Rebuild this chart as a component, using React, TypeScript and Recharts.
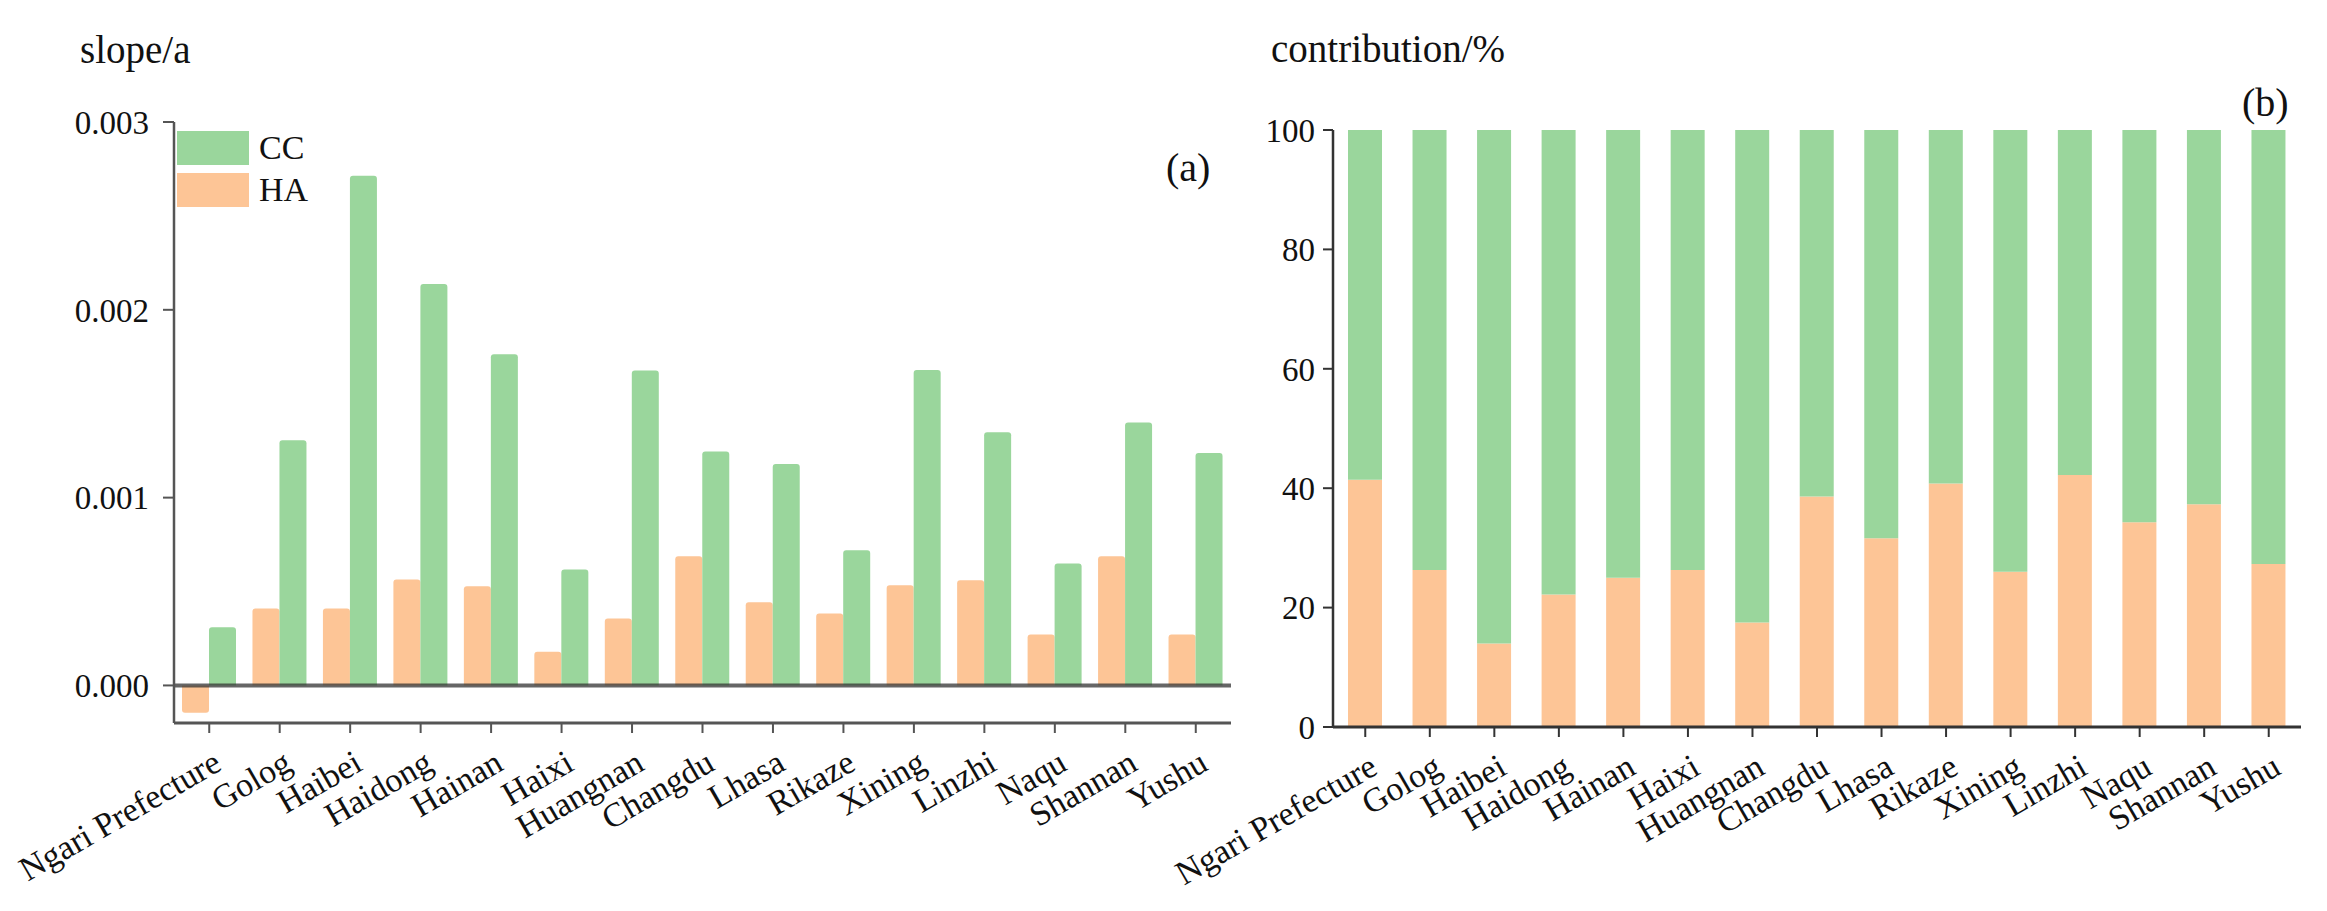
import React from 'react';
import { BarChart, Bar, XAxis, YAxis, ReferenceLine, Legend } from 'recharts';

const regions = ['Ngari Prefecture', 'Golog', 'Haibei', 'Haidong', 'Hainan', 'Haixi', 'Huangnan', 'Changdu', 'Lhasa', 'Rikaze', 'Xining', 'Linzhi', 'Naqu', 'Shannan', 'Yushu'];
const slopeHA = [-0.000145, 0.00041, 0.00041, 0.000564, 0.000528, 0.000179, 0.000356, 0.000688, 0.000443, 0.000383, 0.000534, 0.00056, 0.000271, 0.000688, 0.000271];
const slopeCC = [0.00031, 0.001305, 0.002714, 0.002137, 0.001764, 0.000617, 0.001677, 0.001246, 0.001179, 0.00072, 0.00168, 0.001348, 0.000649, 0.0014, 0.001238];
const contribHA = [41.4, 26.3, 14.0, 22.2, 25.0, 26.3, 17.5, 38.6, 31.6, 40.8, 26.0, 42.2, 34.3, 37.3, 27.3];
const contribCC = [58.6, 73.7, 86.0, 77.8, 75.0, 73.7, 82.5, 61.4, 68.4, 59.2, 74.0, 57.8, 65.7, 62.7, 72.7];
const slopeTicks = [0, 0.001, 0.002, 0.003];
const contribTicks = [0, 20, 40, 60, 80, 100];

const GREEN = '#9AD69C';
const ORANGE = '#FDC596';
const FONT = '"Liberation Serif", "Times New Roman", serif';
const TEXT = '#111';

const dataA = regions.map((name, i) => ({ name, HA: slopeHA[i], CC: slopeCC[i] }));
const dataB = regions.map((name, i) => ({ name, HA: contribHA[i], CC: contribCC[i] }));

const XTick = (props: any) => {
  const { x, y, payload } = props;
  return (
    <text
      x={0}
      y={0}
      transform={`translate(${x + 14},${y + 36}) rotate(-30)`}
      textAnchor="end"
      fontSize={34}
      fontFamily={FONT}
      fill={TEXT}
    >
      {payload.value}
    </text>
  );
};

const LegendContent = (props: any) => {
  const order = ['CC', 'HA'];
  const items = (props.payload || []).slice().sort((a: any, b: any) => order.indexOf(a.value) - order.indexOf(b.value));
  return (
    <div style={{ fontFamily: FONT, fontSize: 34, color: TEXT }}>
      {items.map((it: any, i: number) => (
        <div key={it.value} style={{ display: 'flex', alignItems: 'center', height: 34, marginBottom: i === 0 ? 8 : 0 }}>
          <div style={{ width: 72, height: 34, background: it.color }} />
          <span style={{ marginLeft: 10, lineHeight: '34px' }}>{it.value}</span>
        </div>
      ))}
    </div>
  );
};

export default function App() {
  return (
    <div style={{ position: 'absolute', left: 0, top: 0, width: 2327, height: 911, background: '#fff' }}>
      <div style={{ position: 'absolute', left: 0, top: 0 }}>
        <BarChart width={1250} height={911} data={dataA} barGap={0} margin={{ top: 122, right: 19, bottom: 38, left: 0 }}>
          <XAxis
            dataKey="name"
            interval={0}
            tick={<XTick />}
            tickSize={10}
            tickMargin={0}
            height={150}
            axisLine={{ stroke: '#555', strokeWidth: 3 }}
            tickLine={{ stroke: '#555', strokeWidth: 2 }}
          />
          <YAxis
            width={174}
            domain={[-0.0002, 0.003]}
            ticks={slopeTicks}
            tickFormatter={(v: number) => v.toFixed(3)}
            tick={{ fontSize: 33, fill: TEXT, fontFamily: FONT }}
            tickSize={11}
            tickMargin={14}
            axisLine={{ stroke: '#555', strokeWidth: 2.5 }}
            tickLine={{ stroke: '#555', strokeWidth: 2 }}
          />
          <Legend
            layout="vertical"
            align="center"
            verticalAlign="middle"
            content={<LegendContent />}
            wrapperStyle={{ left: 177, top: 131, width: 200, height: 80 }}
          />
          <Bar dataKey="HA" name="HA" fill={ORANGE} barSize={27} radius={[3, 3, 0, 0]} isAnimationActive={false} />
          <Bar dataKey="CC" name="CC" fill={GREEN} barSize={27} radius={[3, 3, 0, 0]} isAnimationActive={false} />
          <ReferenceLine y={0} stroke="#333" strokeWidth={4} strokeOpacity={0.75} />
        </BarChart>
      </div>
      <div style={{ position: 'absolute', left: 1100, top: 0 }}>
        <BarChart width={1227} height={911} data={dataB} margin={{ top: 130, right: 26, bottom: 34, left: 0 }}>
          <XAxis
            dataKey="name"
            interval={0}
            tick={<XTick />}
            tickSize={10}
            tickMargin={0}
            height={150}
            axisLine={{ stroke: '#333', strokeWidth: 3 }}
            tickLine={{ stroke: '#333', strokeWidth: 2 }}
          />
          <YAxis
            width={233}
            domain={[0, 100]}
            ticks={contribTicks}
            tick={{ fontSize: 33, fill: TEXT, fontFamily: FONT }}
            tickSize={10}
            tickMargin={8}
            axisLine={{ stroke: '#333', strokeWidth: 2.5 }}
            tickLine={{ stroke: '#333', strokeWidth: 2 }}
          />
          <Bar dataKey="HA" name="HA" stackId="s" fill={ORANGE} barSize={34} isAnimationActive={false} />
          <Bar dataKey="CC" name="CC" stackId="s" fill={GREEN} barSize={34} isAnimationActive={false} />
        </BarChart>
      </div>
      <svg width={2327} height={911} style={{ position: 'absolute', left: 0, top: 0, pointerEvents: 'none' }}>
        <text x={80} y={63} fontSize={39} fontFamily={FONT} fill={TEXT}>slope/a</text>
        <text x={1166} y={181} fontSize={40} fontFamily={FONT} fill={TEXT}>(a)</text>
        <text x={1271} y={62} fontSize={39} fontFamily={FONT} fill={TEXT}>contribution/%</text>
        <text x={2242} y={116} fontSize={40} fontFamily={FONT} fill={TEXT}>(b)</text>
      </svg>
    </div>
  );
}
